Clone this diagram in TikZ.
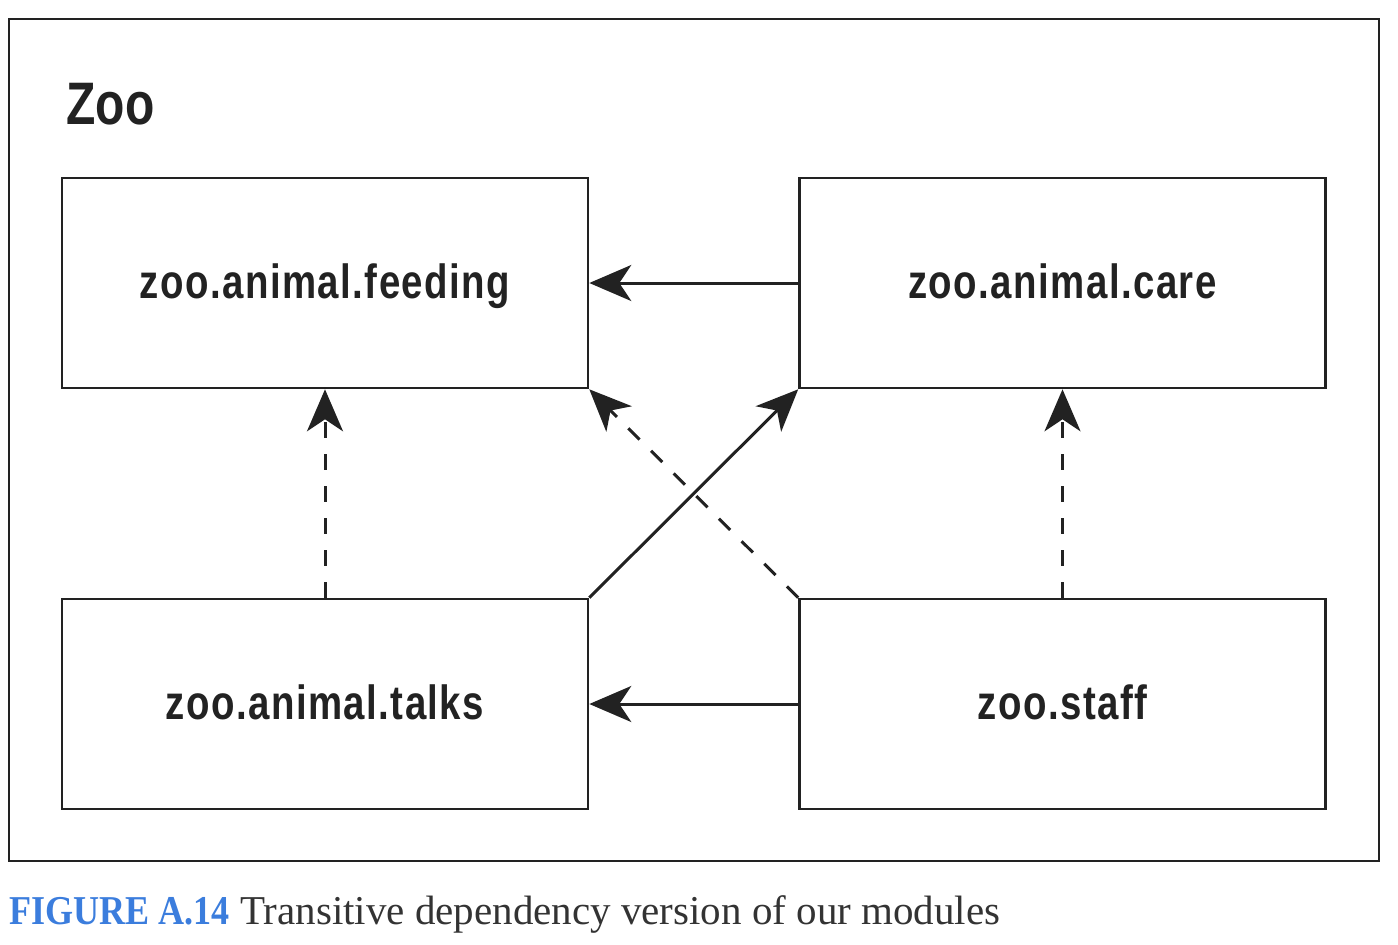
\documentclass[tikz,border=0pt]{standalone}
\usepackage{fontspec}
\setmainfont{Liberation Serif}
\newfontfamily\condfont[FakeStretch=0.80]{Liberation Sans}
\newfontfamily\modfont[FakeStretch=0.80,LetterSpace=3]{Liberation Sans}
\usetikzlibrary{arrows.meta}
\definecolor{ink}{HTML}{222222}
\definecolor{capblue}{HTML}{3B7DDD}
\definecolor{captext}{HTML}{333333}
\tikzset{
  module/.style={draw=ink, line width=1.3pt, minimum width=263pt, minimum height=105pt, inner sep=0pt,
    text height=20pt, text depth=5pt,
    font=\modfont\bfseries\fontsize{24}{28}\selectfont, text=ink},
  dep/.style={draw=ink, line width=1.5pt, -{Stealth[length=21pt,width=18pt,inset=6pt]}},
  depdash/.style={dep, dash pattern=on 8pt off 8pt},
}
\begin{document}
\begin{tikzpicture}[x=0.5pt,y=-0.5pt]
\useasboundingbox (0,0) rectangle (1398,944);
\node[draw=ink, line width=1.3pt, minimum width=685pt, minimum height=421pt, inner sep=0pt] (frame) at (694,440) {};
\node[anchor=base west, font=\condfont\bfseries\fontsize{30}{34}\selectfont, text=ink, inner sep=0pt] (title) at (66,124) {Zoo};
\node[module] (feeding) at (325,283) {zoo.animal.feeding};
\node[module] (care) at (1062.5,283) {zoo.animal.care};
\node[module] (talks) at (325,704) {zoo.animal.talks};
\node[module] (staff) at (1062.5,704) {zoo.staff};
\draw[dep] (care.west) -- (feeding.east);
\draw[dep] (staff.west) -- (talks.east);
\draw[depdash] (talks.north) -- (feeding.south);
\draw[depdash] (staff.north) -- (care.south);
\draw[dep] (talks.north east) -- (care.south west);
\draw[depdash] (staff.north west) -- (feeding.south east);
\node[anchor=base west, inner sep=0pt, font=\fontsize{20.5}{24}\selectfont] (caption) at (9,924)
  {{\color{capblue}\addfontfeature{FakeStretch=0.88}\bfseries FIGURE A.14}\ {\color{captext}Transitive dependency version of our modules}};
\end{tikzpicture}
\end{document}
